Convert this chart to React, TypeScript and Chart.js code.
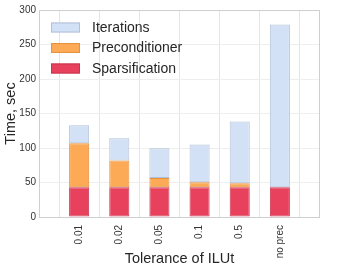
import React, { useEffect, useRef } from "react";
import { Chart, registerables } from "chart.js";

Chart.register(...registerables);

const categories = ["0.01", "0.02", "0.05", "0.1", "0.5", "no prec"];
const sparsification = [43, 43, 43, 43, 43, 43];
const preconditioner = [64, 39, 13.5, 7.5, 6, 0];
const iterations = [26, 32, 43, 54.5, 89.5, 236];
const seriesNames = ["Sparsification", "Preconditioner", "Iterations"];
const yTitle = "Time, sec";
const xTitle = "Tolerance of ILUt";

const FONT = "'Liberation Sans', Arial, Helvetica, sans-serif";

const fills = ["#e8415d", "#fdaa56", "#d3e1f6"];
const borders = ["#c9364f", "#e5923f", "#b3c0d6"];

const pad = (arr: number[]) => [null, ...arr.map((v) => (v === 0 ? null : v)), null];

const framePlugin = {
  id: "frame",
  beforeDatasetsDraw(chart: any) {
    const { ctx, chartArea } = chart;
    ctx.save();
    ctx.strokeStyle = "#cfcfcf";
    ctx.lineWidth = 1;
    ctx.strokeRect(
      Math.round(chartArea.left) + 0.5,
      Math.round(chartArea.top) + 0.5,
      Math.round(chartArea.right - chartArea.left) - 1,
      Math.round(chartArea.bottom - chartArea.top)
    );
    ctx.restore();
  },
};

const legendPlugin = {
  id: "innerLegend",
  afterDatasetsDraw(chart: any) {
    const { ctx, chartArea } = chart;
    const ds = chart.data.datasets.slice().reverse();
    ctx.save();
    ctx.font = `14px ${FONT}`;
    ctx.textBaseline = "middle";
    ctx.textAlign = "left";
    ds.forEach((d: any, i: number) => {
      const x = chartArea.left + 12;
      const y = chartArea.top + 12.5 + i * 20.5;
      ctx.fillStyle = d.backgroundColor;
      ctx.fillRect(x, y, 29, 10);
      ctx.strokeStyle = d.borderColor;
      ctx.lineWidth = 1;
      ctx.strokeRect(x + 0.5, y + 0.5, 28, 9);
      ctx.fillStyle = "#262626";
      ctx.fillText(d.label, x + 41, y + 5.5);
    });
    ctx.restore();
  },
};

export default function App() {
  const ref = useRef<HTMLCanvasElement | null>(null);

  useEffect(() => {
    if (!ref.current) return;
    const values = [sparsification, preconditioner, iterations];
    const chart = new Chart(ref.current, {
      type: "bar",
      data: {
        labels: ["", ...categories, ""],
        datasets: seriesNames.map((name, i) => ({
          label: name,
          data: pad(values[i]),
          backgroundColor: fills[i],
          borderColor: borders[i],
          borderWidth: 1,
          borderSkipped: false,
          barPercentage: 0.5,
          categoryPercentage: 1,
        })),
      },
      options: {
        animation: false,
        responsive: true,
        maintainAspectRatio: false,
        layout: { padding: { top: 10, right: 6, left: 0, bottom: 0 } },
        plugins: {
          legend: { display: false },
          tooltip: { enabled: false },
        },
        scales: {
          x: {
            type: "category",
            stacked: true,
            offset: false,
            border: { display: false },
            grid: { color: "#e4e4e4", drawTicks: false },
            ticks: {
              autoSkip: false,
              minRotation: 90,
              maxRotation: 90,
              padding: 8,
              color: "#333333",
              font: { family: FONT, size: 10 },
            },
            title: {
              display: true,
              text: xTitle,
              color: "#262626",
              font: { family: FONT, size: 14.5 },
              padding: { top: 0, bottom: 4 },
            },
            afterFit(scale: any) {
              scale.height = 55;
            },
          },
          y: {
            stacked: true,
            min: 0,
            max: 300,
            border: { display: false },
            grid: { color: "#eeeeee", drawTicks: false },
            ticks: {
              stepSize: 50,
              padding: 3,
              color: "#333333",
              font: { family: FONT, size: 10 },
            },
            title: {
              display: true,
              text: yTitle,
              color: "#262626",
              font: { family: FONT, size: 14.5 },
              padding: { top: 2, bottom: 0 },
            },
            afterFit(scale: any) {
              scale.width = 39;
            },
          },
        },
      },
      plugins: [framePlugin, legendPlugin],
    });
    return () => chart.destroy();
  }, []);

  return (
    <div style={{ position: "fixed", left: 0, top: 0, width: 340, height: 272, background: "#ffffff" }}>
      <canvas ref={ref} />
    </div>
  );
}
